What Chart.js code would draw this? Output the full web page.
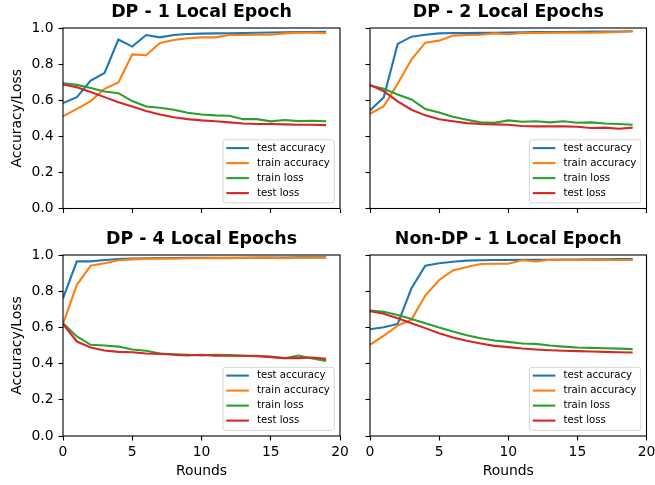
<!DOCTYPE html>
<html>
<head>
<meta charset="utf-8">
<script src="https://cdn.jsdelivr.net/npm/chart.js@4.4.0/dist/chart.umd.min.js"></script>
<style>
  html, body { margin: 0; padding: 0; background: #fff; }
  body { width: 655px; height: 485px; position: relative; overflow: hidden; }
  canvas { position: absolute; }
</style>
</head>
<body>
<canvas id="c1"></canvas>
<canvas id="c2"></canvas>
<canvas id="c3"></canvas>
<canvas id="c4"></canvas>
<script>
// données (20 rounds)
const rounds = [0, 1, 2, 3, 4, 5, 6, 7, 8, 9, 10, 11, 12, 13, 14, 15, 16, 17, 18, 19];
const seriesLabels = ['test accuracy', 'train accuracy', 'train loss', 'test loss'];
const xTicks = [0, 5, 10, 15, 20];
const yTicks = [0.0, 0.2, 0.4, 0.6, 0.8, 1.0];

// DP - 1 Local Epoch
const testAcc1 = [0.584, 0.617, 0.709, 0.751, 0.936, 0.897, 0.961, 0.948, 0.961, 0.967, 0.969, 0.970, 0.971, 0.972, 0.974, 0.975, 0.976, 0.977, 0.978, 0.979];
const trainAcc1 = [0.510, 0.552, 0.595, 0.663, 0.698, 0.854, 0.849, 0.917, 0.934, 0.943, 0.948, 0.948, 0.961, 0.961, 0.963, 0.963, 0.970, 0.974, 0.974, 0.972];
const trainLoss1 = [0.694, 0.685, 0.668, 0.648, 0.639, 0.595, 0.565, 0.558, 0.547, 0.530, 0.521, 0.516, 0.514, 0.495, 0.495, 0.483, 0.490, 0.484, 0.486, 0.483];
const testLoss1 = [0.687, 0.672, 0.645, 0.617, 0.589, 0.565, 0.540, 0.521, 0.506, 0.495, 0.488, 0.483, 0.477, 0.471, 0.468, 0.468, 0.466, 0.464, 0.464, 0.462];

// DP - 2 Local Epochs
const testAcc2 = [0.543, 0.617, 0.912, 0.952, 0.963, 0.970, 0.972, 0.972, 0.973, 0.974, 0.975, 0.976, 0.977, 0.977, 0.978, 0.979, 0.980, 0.980, 0.981, 0.982];
const trainAcc2 = [0.525, 0.567, 0.691, 0.825, 0.919, 0.930, 0.958, 0.961, 0.963, 0.970, 0.965, 0.972, 0.972, 0.974, 0.974, 0.975, 0.974, 0.976, 0.978, 0.982];
const trainLoss2 = [0.681, 0.663, 0.632, 0.604, 0.551, 0.532, 0.508, 0.492, 0.477, 0.475, 0.488, 0.481, 0.483, 0.477, 0.483, 0.475, 0.477, 0.471, 0.468, 0.464];
const testLoss2 = [0.685, 0.650, 0.593, 0.547, 0.516, 0.494, 0.483, 0.473, 0.468, 0.466, 0.464, 0.457, 0.455, 0.455, 0.455, 0.453, 0.446, 0.448, 0.442, 0.448];

// DP - 4 Local Epochs
const testAcc3 = [0.761, 0.965, 0.965, 0.972, 0.978, 0.980, 0.982, 0.983, 0.983, 0.984, 0.984, 0.985, 0.985, 0.985, 0.986, 0.986, 0.986, 0.987, 0.987, 0.987];
const trainAcc3 = [0.619, 0.835, 0.941, 0.954, 0.971, 0.976, 0.979, 0.980, 0.981, 0.982, 0.982, 0.983, 0.983, 0.984, 0.984, 0.984, 0.982, 0.985, 0.985, 0.986];
const trainLoss3 = [0.623, 0.550, 0.504, 0.500, 0.494, 0.478, 0.471, 0.456, 0.452, 0.449, 0.445, 0.449, 0.447, 0.443, 0.443, 0.439, 0.430, 0.445, 0.428, 0.415];
const testLoss3 = [0.619, 0.522, 0.489, 0.472, 0.465, 0.463, 0.456, 0.454, 0.449, 0.445, 0.449, 0.443, 0.443, 0.443, 0.441, 0.436, 0.430, 0.430, 0.434, 0.426];

// Non-DP - 1 Local Epoch
const testAcc4 = [0.590, 0.601, 0.619, 0.816, 0.941, 0.954, 0.963, 0.969, 0.971, 0.972, 0.972, 0.973, 0.973, 0.974, 0.975, 0.975, 0.976, 0.976, 0.977, 0.978];
const trainAcc4 = [0.504, 0.555, 0.610, 0.643, 0.776, 0.862, 0.915, 0.934, 0.950, 0.952, 0.952, 0.971, 0.965, 0.974, 0.972, 0.972, 0.973, 0.972, 0.972, 0.972];
const trainLoss4 = [0.693, 0.686, 0.669, 0.647, 0.623, 0.599, 0.577, 0.557, 0.540, 0.528, 0.520, 0.511, 0.509, 0.500, 0.494, 0.489, 0.487, 0.485, 0.483, 0.480];
const testLoss4 = [0.689, 0.675, 0.651, 0.623, 0.596, 0.568, 0.544, 0.526, 0.511, 0.498, 0.491, 0.483, 0.478, 0.474, 0.471, 0.469, 0.467, 0.465, 0.463, 0.461];

const seriesColors = ['#1f77b4', '#ff7f0e', '#2ca02c', '#d62728'];
const FONT = 'DejaVu Sans';

const panels = [
    { id: 'c1', title: 'DP - 1 Local Epoch', series: [testAcc1, trainAcc1, trainLoss1, testLoss1],
      canvas: { x: 0, y: 0, w: 350, h: 235 }, area: { l: 63, t: 28, r: 340, b: 208.5 }, showX: false, showY: true },
    { id: 'c2', title: 'DP - 2 Local Epochs', series: [testAcc2, trainAcc2, trainLoss2, testLoss2],
      canvas: { x: 345, y: 0, w: 310, h: 235 }, area: { l: 370, t: 28, r: 646.5, b: 208.5 }, showX: false, showY: false },
    { id: 'c3', title: 'DP - 4 Local Epochs', series: [testAcc3, trainAcc3, trainLoss3, testLoss3],
      canvas: { x: 0, y: 225, w: 350, h: 260 }, area: { l: 63, t: 255, r: 340, b: 436 }, showX: true, showY: true },
    { id: 'c4', title: 'Non-DP - 1 Local Epoch', series: [testAcc4, trainAcc4, trainLoss4, testLoss4],
      canvas: { x: 345, y: 225, w: 310, h: 260 }, area: { l: 370, t: 255, r: 646.5, b: 436 }, showX: true, showY: false }
];

// cadre noir autour de la zone de tracé (4 côtés)
const cadrePlugin = {
    id: 'cadre',
    afterDatasetsDraw(chart) {
        const { ctx, chartArea: c } = chart;
        ctx.save();
        ctx.strokeStyle = '#000';
        ctx.lineWidth = 1.1;
        ctx.strokeRect(c.left, c.top, c.right - c.left, c.bottom - c.top);
        ctx.restore();
    }
};

// légende en bas à droite, dans la zone de tracé
const legendePlugin = {
    id: 'legende',
    afterDatasetsDraw(chart) {
        const { ctx, chartArea: c } = chart;
        const ds = chart.data.datasets;
        ctx.save();
        ctx.font = '10.2px "' + FONT + '"';
        const maxW = Math.max(...ds.map(d => ctx.measureText(d.label).width));
        const w = 34 + maxW + 4.5, h = 63, r = 2.5;
        const x = c.right - 5.7 - w, y = c.bottom - 5.7 - h;
        ctx.beginPath();
        ctx.moveTo(x + r, y);
        ctx.lineTo(x + w - r, y);
        ctx.arcTo(x + w, y, x + w, y + r, r);
        ctx.lineTo(x + w, y + h - r);
        ctx.arcTo(x + w, y + h, x + w - r, y + h, r);
        ctx.lineTo(x + r, y + h);
        ctx.arcTo(x, y + h, x, y + h - r, r);
        ctx.lineTo(x, y + r);
        ctx.arcTo(x, y, x + r, y, r);
        ctx.closePath();
        ctx.fillStyle = 'rgba(255,255,255,0.8)';
        ctx.fill();
        ctx.strokeStyle = 'rgba(204,204,204,0.8)';
        ctx.lineWidth = 1;
        ctx.stroke();
        ds.forEach((d, i) => {
            const cy = y + 8.3 + i * 15;
            ctx.strokeStyle = d.borderColor;
            ctx.lineWidth = 2.1;
            ctx.beginPath();
            ctx.moveTo(x + 3.4, cy);
            ctx.lineTo(x + 26, cy);
            ctx.stroke();
            ctx.fillStyle = '#000';
            ctx.textBaseline = 'middle';
            ctx.fillText(d.label, x + 34, cy);
        });
        ctx.restore();
    }
};

function creerGraphique(p) {
    const cv = document.getElementById(p.id);
    cv.width = p.canvas.w;
    cv.height = p.canvas.h;
    cv.style.left = p.canvas.x + 'px';
    cv.style.top = p.canvas.y + 'px';
    const a = { l: p.area.l - p.canvas.x, t: p.area.t - p.canvas.y, r: p.area.r - p.canvas.x, b: p.area.b - p.canvas.y };
    const tickFont = { family: FONT, size: 13.9 };
    const grille = { display: true, drawOnChartArea: false, drawTicks: true, tickLength: 4.5, color: '#000', tickColor: '#000', tickWidth: 1.1 };

    new Chart(cv, {
        type: 'line',
        data: {
            datasets: p.series.map((vals, i) => ({
                label: seriesLabels[i],
                data: rounds.map((r, k) => ({ x: r, y: vals[k] })),
                borderColor: seriesColors[i],
                backgroundColor: seriesColors[i],
                borderWidth: 2.1,
                pointRadius: 0,
                tension: 0,
                order: 3 - i
            }))
        },
        options: {
            responsive: false,
            animation: false,
            devicePixelRatio: 1,
            layout: { padding: { left: 0, top: 0, right: p.canvas.w - a.r, bottom: 0 } },
            plugins: {
                legend: { display: false },
                tooltip: { enabled: false },
                title: {
                    display: true,
                    text: p.title,
                    fullSize: false,
                    color: '#000',
                    font: { family: FONT, size: 17.4, weight: 'bold' },
                    padding: { top: a.t - 20.88 - 5.5, bottom: 5.5 }
                }
            },
            scales: {
                x: {
                    type: 'linear',
                    min: 0,
                    max: 20,
                    afterBuildTicks: ax => { ax.ticks = xTicks.map(v => ({ value: v })); },
                    ticks: { display: p.showX, color: '#000', font: tickFont, padding: 3.5, maxRotation: 0 },
                    grid: grille,
                    border: { display: false },
                    title: { display: p.showX, text: 'Rounds', color: '#000', font: tickFont, padding: { top: 0, bottom: 5.2 } },
                    afterFit: ax => { ax.height = p.canvas.h - a.b; ax.paddingLeft = 0; ax.paddingRight = 0; }
                },
                y: {
                    min: 0,
                    max: 1,
                    afterBuildTicks: ax => { ax.ticks = yTicks.map(v => ({ value: v })); },
                    ticks: { display: p.showY, color: '#000', font: tickFont, padding: 5, callback: v => v.toFixed(1) },
                    grid: grille,
                    border: { display: false },
                    title: { display: p.showY, text: 'Accuracy/Loss', color: '#000', font: tickFont, padding: { top: 9.2, bottom: 0 } },
                    afterFit: ax => { ax.width = a.l; ax.paddingTop = 0; ax.paddingBottom = 0; }
                }
            }
        },
        plugins: [cadrePlugin, legendePlugin]
    });
}

panels.forEach(creerGraphique);
</script>
</body>
</html>
